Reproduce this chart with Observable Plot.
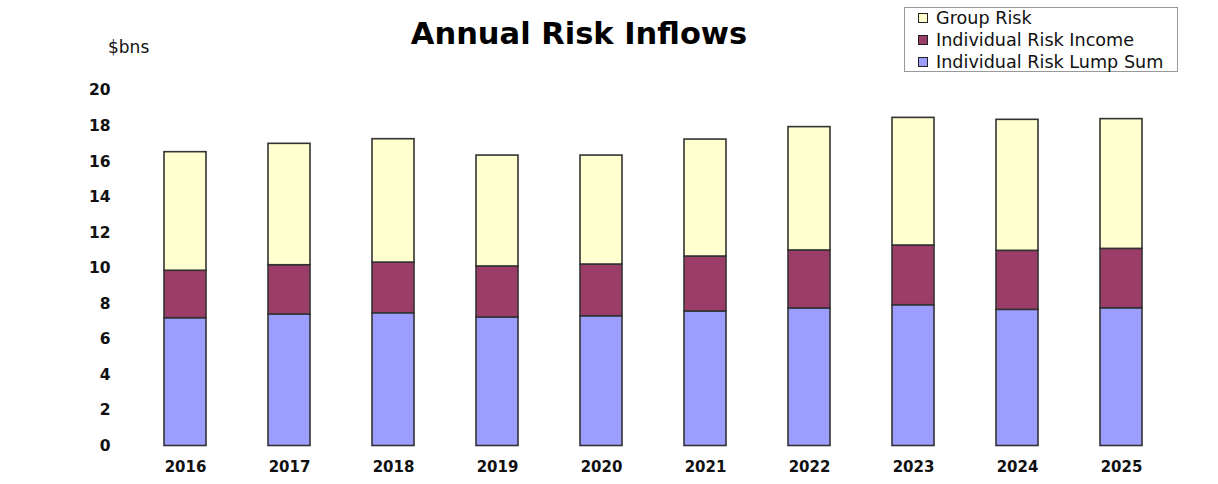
<!DOCTYPE html>
<html>
<head>
<meta charset="utf-8">
<script src="https://cdn.jsdelivr.net/npm/d3@7"></script>
<script src="https://cdn.jsdelivr.net/npm/@observablehq/plot@0.6"></script>
<style>
  html, body { margin: 0; padding: 0; background: #fff; }
  #wrap { position: relative; width: 1218px; height: 484px; font-family: "DejaVu Sans", Verdana, sans-serif; color: #111; }
  #title { position: absolute; left: 579px; top: 33px; transform: translate(-50%, -50%); font-size: 30.5px; font-weight: bold; white-space: nowrap; color: #000; }
  #unit { position: absolute; left: 108px; top: 47px; transform: translateY(-50%); font-size: 17px; white-space: nowrap; }
  #legend { position: absolute; left: 904px; top: 7px; width: 274px; height: 65px; border: 1px solid #999; box-sizing: border-box; background: #fff; }
  .row { position: absolute; left: 13px; height: 20px; display: flex; align-items: center; font-size: 17.6px; white-space: nowrap; }
  .sw { width: 8px; height: 8px; border: 1px solid #222; margin-right: 8px; }
  svg { position: absolute; left: 0; top: 0; }
</style>
</head>
<body>
<div id="wrap"></div>
<script>
const years = ["2016","2017","2018","2019","2020","2021","2022","2023","2024","2025"];
const seriesNames = ["Individual Risk Lump Sum", "Individual Risk Income", "Group Risk"];
const seriesColors = ["#9D9DFF", "#9C3D69", "#FFFFCF"];
const lumpSum = [7.19, 7.40, 7.47, 7.23, 7.30, 7.57, 7.74, 7.92, 7.66, 7.75];
const riskIncome = [2.67, 2.77, 2.85, 2.87, 2.91, 3.09, 3.26, 3.36, 3.32, 3.34];
const groupRisk = [6.67, 6.83, 6.94, 6.24, 6.13, 6.58, 6.94, 7.18, 7.37, 7.30];
const yTicks = [0, 2, 4, 6, 8, 10, 12, 14, 16, 18, 20];
const legendOrder = ["Group Risk", "Individual Risk Income", "Individual Risk Lump Sum"];

const seriesValues = [lumpSum, riskIncome, groupRisk];
const data = [];
seriesNames.forEach((s, i) => {
  years.forEach((y, j) => data.push({year: y, series: s, value: seriesValues[i][j]}));
});

const chart = Plot.plot({
  width: 1218,
  height: 484,
  marginLeft: 131,
  marginRight: 44,
  marginTop: 90,
  marginBottom: 38.5,
  style: {fontFamily: "'DejaVu Sans', Verdana, sans-serif", background: "transparent"},
  x: {domain: years, paddingInner: 0.6, paddingOuter: 0.3, label: null},
  y: {domain: [0, 20], label: null},
  color: {domain: seriesNames, range: seriesColors},
  marks: [
    Plot.barY(data, Plot.stackY({x: "year", y: "value", fill: "series", order: seriesNames, stroke: "#333", strokeWidth: 1.6})),
    Plot.axisX({tickSize: 0, tickPadding: 15, fontSize: 15, fontWeight: "bold", fill: "#111", label: null}),
    Plot.axisY({ticks: yTicks, tickSize: 0, tickPadding: 21, fontSize: 15.5, fontWeight: "bold", fill: "#111", label: null})
  ]
});

const wrap = document.getElementById("wrap");
wrap.appendChild(chart);

const title = document.createElement("div");
title.id = "title";
title.textContent = "Annual Risk Inflows";
wrap.appendChild(title);

const unit = document.createElement("div");
unit.id = "unit";
unit.textContent = "$bns";
wrap.appendChild(unit);

const legend = document.createElement("div");
legend.id = "legend";
legendOrder.forEach((name, i) => {
  const row = document.createElement("div");
  row.className = "row";
  row.style.top = (0 + i * 22) + "px";
  const sw = document.createElement("span");
  sw.className = "sw";
  sw.style.background = seriesColors[seriesNames.indexOf(name)];
  const t = document.createElement("span");
  t.textContent = name;
  row.appendChild(sw);
  row.appendChild(t);
  legend.appendChild(row);
});
wrap.appendChild(legend);
</script>
</body>
</html>
